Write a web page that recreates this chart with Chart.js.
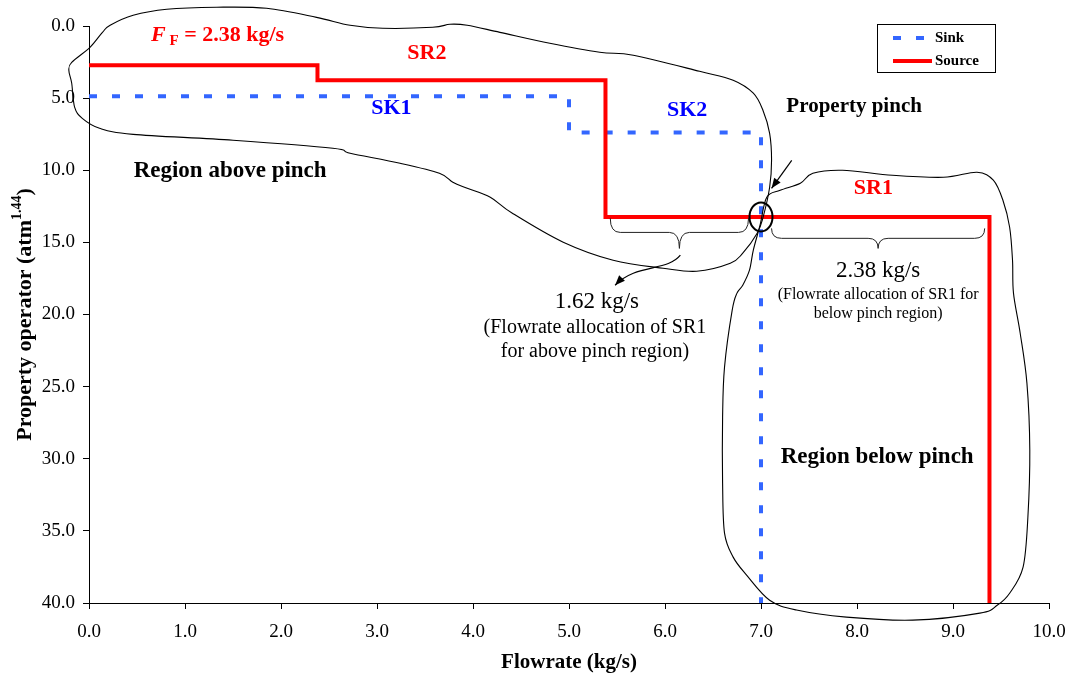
<!DOCTYPE html>
<html>
<head>
<meta charset="utf-8">
<script src="https://cdn.jsdelivr.net/npm/chart.js@4.4.0/dist/chart.umd.min.js"></script>
<style>
  html, body { margin: 0; padding: 0; background: #ffffff; }
  #wrap { width: 1068px; height: 675px; }
</style>
</head>
<body>
<div id="wrap"><canvas id="c" width="1068" height="675"></canvas></div>
<script>
// Composite curves: flowrate (kg/s) against property operator (atm^1.44)
const seriesNames = ['Sink', 'Source'];
const sinkFlow    = [0, 5.0, 5.0, 7.0, 7.0];
const sinkProp    = [4.87, 4.87, 7.39, 7.39, 40.0];
const sourceFlow  = [0, 2.38, 2.38, 5.38, 5.38, 9.38, 9.38];
const sourceProp  = [2.72, 2.72, 3.76, 3.76, 13.24, 13.24, 40.0];

// Axis ticks
const xTicks = [0, 1, 2, 3, 4, 5, 6, 7, 8, 9, 10];
const yTicks = [0, 5, 10, 15, 20, 25, 30, 35, 40];

// Pinch point and the two SR1 allocations
const pinchFlow = 7.0;
const pinchProp = 13.24;
const freshFlow = 2.38;

const SERIF = '"Liberation Serif", "Times New Roman", serif';

// Hand-drawn outline of the region above the pinch (flowrate, property)
const aboveOutline = [
  [6.81, 15.75], [6.96, 14.37], [7.02, 13.30], [7.09, 11.18], [7.11, 9.31],
  [7.09, 7.44], [7.02, 5.84], [6.92, 4.66], [6.71, 3.76], [6.36, 3.14],
  [5.67, 2.03], [5.32, 1.82], [4.80, 1.20], [4.28, 0.44], [3.94, -0.05],
  [3.76, -0.12], [3.58, 0.09], [3.06, 0.16], [2.72, -0.05], [2.37, -0.60],
  [1.85, -1.23], [1.33, -1.30], [0.81, -1.16], [0.46, -0.74], [0.22, -0.05],
  [0.14, 0.44], [0.01, 1.48], [-0.18, 2.52], [-0.21, 3.07], [-0.18, 3.97],
  [-0.15, 5.63], [-0.07, 6.40], [0.11, 7.09], [0.46, 7.51], [1.50, 7.92],
  [2.54, 8.48], [2.72, 8.82], [3.24, 9.52], [3.65, 10.21], [3.79, 10.83],
  [3.94, 11.25], [4.18, 11.87], [4.41, 12.98], [4.94, 14.99], [5.46, 16.24],
  [5.98, 16.79], [6.33, 17.00], [6.68, 16.45], [6.81, 15.75]
];

// Hand-drawn outline of the region below the pinch
const belowOutline = [
  [7.06, 11.87], [7.20, 11.39], [7.41, 10.90], [7.54, 10.21], [7.85, 10.00],
  [8.37, 10.35], [8.90, 10.49], [9.25, 10.14], [9.42, 10.69], [9.52, 12.08],
  [9.59, 13.95], [9.62, 16.24], [9.63, 18.52], [9.70, 21.30], [9.77, 24.76],
  [9.80, 29.40], [9.78, 34.05], [9.73, 37.51], [9.59, 39.32], [9.46, 40.16],
  [9.28, 40.70], [8.58, 41.19], [7.89, 40.98], [7.37, 40.49], [7.09, 39.81],
  [6.85, 38.07], [6.71, 36.82], [6.62, 35.16], [6.60, 31.69], [6.60, 27.12],
  [6.62, 23.65], [6.70, 19.70], [6.75, 18.52], [6.81, 17.97], [6.88, 16.93],
  [6.92, 15.54], [6.99, 13.81], [7.06, 11.87]
];

// Text notes placed in data units
const notes = [
  { text: 'SR2', x: 3.52, y: 1.89, font: 'bold 22px', color: '#ff0000' },
  { text: 'SK1', x: 3.15, y: 5.70, font: 'bold 22px', color: '#0000ff' },
  { text: 'SK2', x: 6.23, y: 5.84, font: 'bold 22px', color: '#0000ff' },
  { text: 'Region above pinch', x: 1.47, y: 10.07, font: 'bold 23px', color: '#000000' },
  { text: 'Property pinch', x: 7.97, y: 5.56, font: 'bold 21px', color: '#000000' },
  { text: 'SR1', x: 8.17, y: 11.25, font: 'bold 22px', color: '#ff0000' },
  { text: (pinchFlow - 5.38).toFixed(2) + ' kg/s', x: 5.29, y: 19.15, font: '23px', color: '#000000' },
  { text: '(Flowrate allocation of SR1', x: 5.27, y: 20.95, font: '20px', color: '#000000' },
  { text: 'for above pinch region)', x: 5.27, y: 22.61, font: '20px', color: '#000000' },
  { text: (9.38 - pinchFlow).toFixed(2) + ' kg/s', x: 8.22, y: 17.0, font: '23px', color: '#000000' },
  { text: '(Flowrate allocation of SR1 for', x: 8.22, y: 18.66, font: '16px', color: '#000000' },
  { text: 'below pinch region)', x: 8.22, y: 19.98, font: '16px', color: '#000000' },
  { text: 'Region below pinch', x: 8.21, y: 29.89, font: 'bold 23px', color: '#000000' }
];

// Curly braces under SR1 (x from, x to, y of ends, y of middle, y of tip)
const braces = [
  [5.43, 6.87, 13.33, 14.31, 15.42],
  [7.11, 9.33, 14.03, 14.72, 15.42]
];

function toPoints(xs, ys) { return xs.map((x, i) => ({ x: x, y: ys[i] })); }

function smoothClosed(ctx, pts) {
  const n = pts.length;
  ctx.moveTo(pts[0][0], pts[0][1]);
  for (let i = 0; i < n - 1; i++) {
    const p0 = pts[i === 0 ? n - 2 : i - 1];
    const p1 = pts[i], p2 = pts[i + 1];
    const p3 = pts[i + 2 < n ? i + 2 : 1];
    const t = 1 / 6;
    ctx.bezierCurveTo(
      p1[0] + (p2[0] - p0[0]) * t, p1[1] + (p2[1] - p0[1]) * t,
      p2[0] - (p3[0] - p1[0]) * t, p2[1] - (p3[1] - p1[1]) * t,
      p2[0], p2[1]);
  }
}

function arrowHead(ctx, x, y, ang, len, half) {
  ctx.beginPath();
  ctx.moveTo(x, y);
  ctx.lineTo(x - len * Math.cos(ang) + half * Math.sin(ang), y - len * Math.sin(ang) - half * Math.cos(ang));
  ctx.lineTo(x - len * Math.cos(ang) - half * Math.sin(ang), y - len * Math.sin(ang) + half * Math.cos(ang));
  ctx.closePath();
  ctx.fill();
}

const annotationPlugin = {
  id: 'pinchNotes',
  afterDraw(chart) {
    const ctx = chart.ctx;
    const xs = chart.scales.x, ys = chart.scales.y;
    const px = v => xs.getPixelForValue(v);
    const py = v => ys.getPixelForValue(v);
    ctx.save();

    // region outlines
    ctx.strokeStyle = '#000000';
    ctx.lineWidth = 1.1;
    [aboveOutline, belowOutline].forEach(path => {
      const pts = path.map(p => [px(p[0]), py(p[1])]);
      ctx.beginPath();
      smoothClosed(ctx, pts);
      ctx.stroke();
    });

    // braces
    ctx.lineWidth = 1;
    ctx.strokeStyle = '#222222';
    braces.forEach(b => {
      const x1 = px(b[0]), x2 = px(b[1]), xm = (x1 + x2) / 2;
      const y0 = py(b[2]), y1 = py(b[3]), y2 = py(b[4]);
      const r = 10;
      ctx.beginPath();
      ctx.moveTo(x1, y0);
      ctx.quadraticCurveTo(x1, y1, x1 + r, y1);
      ctx.lineTo(xm - r, y1);
      ctx.quadraticCurveTo(xm, y1, xm, y2);
      ctx.quadraticCurveTo(xm, y1, xm + r, y1);
      ctx.lineTo(x2 - r, y1);
      ctx.quadraticCurveTo(x2, y1, x2, y0);
      ctx.stroke();
    });

    // pinch circle
    ctx.lineWidth = 2;
    ctx.strokeStyle = '#000000';
    ctx.beginPath();
    ctx.ellipse(px(pinchFlow), py(pinchProp), 11.5, 14.5, 0, 0, Math.PI * 2);
    ctx.stroke();

    // arrow to the pinch
    ctx.lineWidth = 1.2;
    ctx.fillStyle = '#000000';
    const ax0 = px(7.32), ay0 = py(9.31), ax1 = px(7.11), ay1 = py(11.25);
    ctx.beginPath();
    ctx.moveTo(ax0, ay0);
    ctx.lineTo(ax1, ay1);
    ctx.stroke();
    arrowHead(ctx, ax1, ay1, Math.atan2(ay1 - ay0, ax1 - ax0), 10, 4);

    // curved arrow from the left brace to its label
    const bx0 = px(6.16), by0 = py(15.89);
    const c1x = px(6.02), c1y = py(17.05);
    const c2x = px(5.70), c2y = py(16.45);
    const bx1 = px(5.48), by1 = py(17.97);
    ctx.beginPath();
    ctx.moveTo(bx0, by0);
    ctx.bezierCurveTo(c1x, c1y, c2x, c2y, bx1, by1);
    ctx.stroke();
    arrowHead(ctx, bx1, by1, Math.atan2(by1 - c2y, bx1 - c2x), 10, 4);

    // text notes
    ctx.textAlign = 'center';
    ctx.textBaseline = 'middle';
    notes.forEach(n => {
      ctx.font = n.font + ' ' + SERIF;
      ctx.fillStyle = n.color;
      ctx.fillText(n.text, px(n.x), py(n.y));
    });

    // fresh source flowrate: F with subscript F
    {
      const main = 'bold 22px ' + SERIF;
      const ital = 'italic bold 22px ' + SERIF;
      const sub = 'bold 15px ' + SERIF;
      const rest = ' = ' + freshFlow.toFixed(2) + ' kg/s';
      ctx.font = ital; const w1 = ctx.measureText('F').width;
      ctx.font = sub; const w2 = ctx.measureText(' F').width;
      ctx.font = main; const w3 = ctx.measureText(rest).width;
      const total = w1 + w2 + w3;
      let x = px(1.34) - total / 2;
      const y = py(0.64);
      ctx.textAlign = 'left';
      ctx.fillStyle = '#ff0000';
      ctx.font = ital; ctx.fillText('F', x, y); x += w1;
      ctx.font = sub; ctx.fillText(' F', x, y + 6); x += w2;
      ctx.font = main; ctx.fillText(rest, x, y);
    }

    // legend box
    {
      const left = chart.chartArea.right - 172, top = chart.chartArea.top - 2;
      const w = 118, h = 48;
      ctx.lineWidth = 1;
      ctx.strokeStyle = '#000000';
      ctx.strokeRect(left + 0.5, top + 0.5, w, h);
      chart.data.datasets.forEach((ds, i) => {
        const yy = top + 14 + i * 23;
        ctx.save();
        ctx.strokeStyle = ds.borderColor;
        ctx.lineWidth = ds.borderWidth;
        ctx.setLineDash(ds.borderDash || []);
        ctx.beginPath();
        ctx.moveTo(left + 16, yy);
        ctx.lineTo(left + 55, yy);
        ctx.stroke();
        ctx.restore();
        ctx.font = 'bold 15px ' + SERIF;
        ctx.fillStyle = '#000000';
        ctx.textAlign = 'left';
        ctx.textBaseline = 'middle';
        ctx.fillText(ds.label, left + 58, yy);
      });
    }

    // vertical axis title with superscript exponent
    {
      const cx = 25, cy = (chart.chartArea.top + chart.chartArea.bottom) / 2;
      const big = 'bold 22px ' + SERIF, small = 'bold 14px ' + SERIF;
      const a = 'Property operator (atm', e = '1.44', c = ')';
      ctx.font = big; const wa = ctx.measureText(a).width, wc = ctx.measureText(c).width;
      ctx.font = small; const we = ctx.measureText(e).width;
      const total = wa + we + wc;
      ctx.translate(cx, cy);
      ctx.rotate(-Math.PI / 2);
      ctx.fillStyle = '#000000';
      ctx.textAlign = 'left';
      ctx.textBaseline = 'middle';
      let x = -total / 2;
      ctx.font = big; ctx.fillText(a, x, 0); x += wa;
      ctx.font = small; ctx.fillText(e, x, -8); x += we;
      ctx.font = big; ctx.fillText(c, x, 0);
    }
    ctx.restore();
  }
};

const chart = new Chart(document.getElementById('c'), {
  type: 'scatter',
  data: {
    datasets: [
      {
        label: seriesNames[0],
        data: toPoints(sinkFlow, sinkProp),
        showLine: true,
        borderColor: '#3366ff',
        borderWidth: 4,
        borderDash: [8, 15],
        pointRadius: 0,
        fill: false,
        tension: 0,
        order: 1
      },
      {
        label: seriesNames[1],
        data: toPoints(sourceFlow, sourceProp),
        showLine: true,
        borderColor: '#ff0000',
        borderWidth: 4,
        pointRadius: 0,
        fill: false,
        tension: 0,
        order: 0
      }
    ]
  },
  options: {
    responsive: false,
    devicePixelRatio: 1,
    animation: false,
    events: [],
    layout: { padding: { left: 0, right: 19, top: 26, bottom: 0 } },
    plugins: {
      legend: { display: false },
      tooltip: { enabled: false }
    },
    scales: {
      x: {
        type: 'linear',
        min: 0,
        max: 10,
        afterBuildTicks: s => { s.ticks = xTicks.map(v => ({ value: v })); },
        afterFit: s => { s.height = 72; s.paddingLeft = 0; s.paddingRight = 0; },
        ticks: {
          color: '#000000',
          font: { family: SERIF, size: 19 },
          padding: 12,
          maxRotation: 0,
          autoSkip: false,
          callback: v => Number(v).toFixed(1)
        },
        grid: { drawOnChartArea: false, drawTicks: true, tickLength: 6, color: '#000000' },
        border: { display: true, color: '#000000', width: 1 },
        title: {
          display: true,
          text: 'Flowrate (kg/s)',
          color: '#000000',
          font: { family: SERIF, size: 21, weight: 'bold', lineHeight: 1.2 },
          padding: { top: 0, bottom: 0 }
        }
      },
      y: {
        type: 'linear',
        reverse: true,
        min: 0,
        max: 40,
        afterBuildTicks: s => { s.ticks = yTicks.map(v => ({ value: v })); },
        afterFit: s => { s.width = 89; s.paddingTop = 0; s.paddingBottom = 0; },
        ticks: {
          color: '#000000',
          font: { family: SERIF, size: 19 },
          padding: 8,
          autoSkip: false,
          callback: v => Number(v).toFixed(1)
        },
        grid: { drawOnChartArea: false, drawTicks: true, tickLength: 6, color: '#000000' },
        border: { display: true, color: '#000000', width: 1 }
      }
    }
  },
  plugins: [annotationPlugin]
});
</script>
</body>
</html>
